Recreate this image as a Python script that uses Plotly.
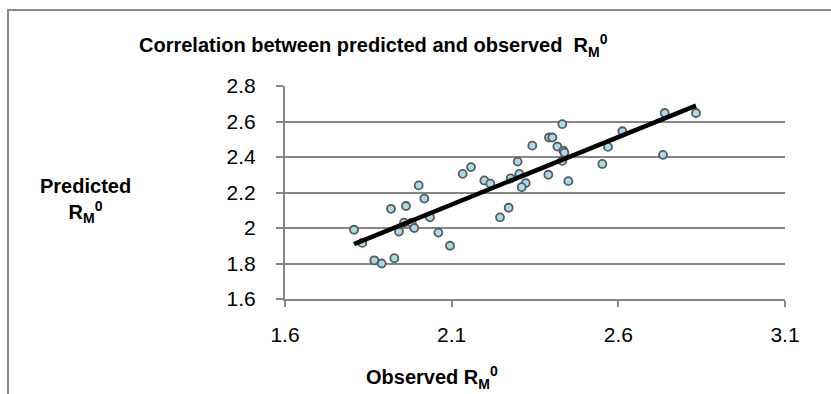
import numpy as np
import plotly.graph_objects as go

# ---- data ----
observed = [1.807, 1.832, 1.868, 1.890, 1.928, 1.918, 1.963, 1.942, 1.957, 1.980,
            1.988, 2.001, 2.018, 2.035, 2.060, 2.095, 2.133, 2.158, 2.198, 2.216,
            2.245, 2.271, 2.277, 2.298, 2.303, 2.322, 2.310, 2.390, 2.342, 2.432,
            2.392, 2.402, 2.417, 2.435, 2.438, 2.432, 2.450, 2.552, 2.569, 2.612,
            2.734, 2.739, 2.833]
predicted = [1.990, 1.916, 1.818, 1.800, 1.830, 2.108, 2.124, 1.980, 2.030, 2.030,
             2.000, 2.240, 2.166, 2.060, 1.974, 1.900, 2.305, 2.343, 2.268, 2.250,
             2.060, 2.114, 2.280, 2.374, 2.305, 2.253, 2.230, 2.300, 2.464, 2.585,
             2.510, 2.510, 2.459, 2.436, 2.425, 2.378, 2.264, 2.361, 2.457, 2.545,
             2.412, 2.648, 2.648]
x_ticks = [1.6, 2.1, 2.6, 3.1]
x_tick_text = ["1.6", "2.1", "2.6", "3.1"]
y_ticks = [1.6, 1.8, 2.0, 2.2, 2.4, 2.6, 2.8]
y_tick_text = ["1.6", "1.8", "2", "2.2", "2.4", "2.6", "2.8"]

title_text = "Correlation between predicted and observed  R<sub>M</sub><sup>0</sup>"
x_title = "Observed R<sub>M</sub><sup>0</sup>"
y_title = "Predicted<br>R<sub>M</sub><sup>0</sup>"

# linear trendline (least squares) over the data range
slope, intercept = np.polyfit(observed, predicted, 1)
trend_x = [min(observed), max(observed)]
trend_y = [slope * v + intercept for v in trend_x]

W, H = 831, 394
L, R, T, B = 285, 46, 86, 95
PW, PH = W - L - R, H - T - B

def px(x):
    return (x - L) / PW

def py(y):
    return (H - B - y) / PH

GRID = "#868686"
TICKFONT = dict(family="Liberation Sans, Arial, sans-serif", size=21, color="#000000")
BOLD = dict(family="Liberation Sans, Arial, sans-serif", size=20, color="#000000", weight="bold")

fig = go.Figure()
fig.add_trace(go.Scatter(
    x=observed, y=predicted, mode="markers",
    marker=dict(size=8, color="#a3dcea", line=dict(color="#5a5a5a", width=1.8)),
    hoverinfo="skip", showlegend=False,
))
fig.add_trace(go.Scatter(
    x=trend_x, y=trend_y, mode="lines",
    line=dict(color="#000000", width=4.5),
    hoverinfo="skip", showlegend=False,
))

fig.update_layout(
    width=W, height=H,
    margin=dict(l=L, r=R, t=T, b=B),
    paper_bgcolor="#ffffff", plot_bgcolor="#ffffff",
    xaxis=dict(range=[1.6, 3.1], tickvals=x_ticks, ticktext=x_tick_text,
               showgrid=False, zeroline=False, showline=True, linecolor=GRID, linewidth=2,
               ticks="outside", ticklen=6, tickwidth=2, tickcolor=GRID,
               tickfont=TICKFONT, ticklabelstandoff=10),
    yaxis=dict(range=[1.6, 2.8], tickvals=y_ticks, ticktext=y_tick_text,
               showgrid=True, gridcolor=GRID, gridwidth=2, zeroline=False,
               showline=True, linecolor=GRID, linewidth=2,
               ticks="outside", ticklen=7, tickwidth=2, tickcolor=GRID,
               tickfont=TICKFONT, ticklabelstandoff=16),
    shapes=[dict(type="rect", xref="paper", yref="paper",
                 x0=px(8), x1=px(845), y0=py(10), y1=py(410),
                 line=dict(color="#8a8a8a", width=2), fillcolor="rgba(0,0,0,0)", layer="below")],
    annotations=[
        dict(text=title_text, xref="paper", yref="paper", x=px(137), y=py(46),
             xanchor="left", yanchor="middle", showarrow=False, font=BOLD),
        dict(text=x_title, xref="paper", yref="paper", x=px(432), y=py(377),
             xanchor="center", yanchor="middle", showarrow=False, font=BOLD),
        dict(text=y_title, xref="paper", yref="paper", x=px(85), y=py(200),
             xanchor="center", yanchor="middle", showarrow=False, font=BOLD, align="center"),
    ],
)

fig.write_html("out.html")
